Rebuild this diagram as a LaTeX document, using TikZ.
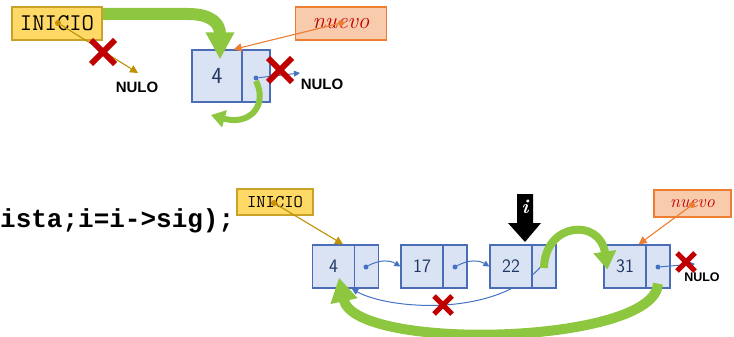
\documentclass[tikz,border=0pt]{standalone}
\usepackage{fontspec}
\newfontfamily\nulofont{Liberation Sans}
\newfontfamily\codefont{Liberation Mono}
\usetikzlibrary{arrows.meta}
\definecolor{inifill}{HTML}{FFD966}
\definecolor{inidraw}{HTML}{C9A227}
\definecolor{goldline}{HTML}{BF9000}
\definecolor{nuefill}{HTML}{F8CBAD}
\definecolor{nuedraw}{HTML}{ED7D31}
\definecolor{nuetext}{HTML}{C00000}
\definecolor{cellfill}{HTML}{DAE3F3}
\definecolor{celldraw}{HTML}{4A6DB5}
\definecolor{blueline}{HTML}{4472C4}
\definecolor{xred}{HTML}{C00000}
\definecolor{gfill}{HTML}{8DC63F}
\definecolor{navy}{HTML}{1F3864}
\tikzset{
  cellst/.style={draw=celldraw, fill=cellfill, line width=1.3pt, inner sep=0pt, text=navy},
  leftcell/.style={cellst, minimum width=42pt, minimum height=43pt, font=\sffamily\fontsize{19}{19}\selectfont},
  rightcell/.style={cellst, minimum width=24pt, minimum height=43pt},
  bigleft/.style={cellst, minimum width=50pt, minimum height=52pt, font=\sffamily\fontsize{23}{23}\selectfont},
  bigright/.style={cellst, minimum width=28pt, minimum height=52pt},
  dotst/.style={circle, fill=blueline, inner sep=0pt, minimum size=5pt},
  orangedot/.style={circle, fill=nuedraw, inner sep=0pt, minimum size=6pt},
  golddot/.style={circle, fill=goldline!80!orange, inner sep=0pt, minimum size=6pt},
  inibox/.style={draw=inidraw, fill=inifill, line width=1.5pt, inner sep=0pt, font=\ttfamily},
  nuebox/.style={draw=nuedraw, fill=nuefill, line width=1.5pt, inner sep=0pt, text=nuetext, font=\itshape},
  nulost/.style={inner sep=0pt, font=\nulofont\bfseries\fontsize{15}{15}\selectfont},
  garrow/.style={draw=gfill},
  barrow/.style={draw=blueline, line width=1pt, -{Triangle[length=6pt,width=6pt]}},
  goldarr/.style={draw=goldline, line width=1.1pt, -{Triangle[length=8pt,width=8pt]}},
  orarr/.style={draw=nuedraw, line width=1.1pt, -{Triangle[length=8pt,width=8pt]}},
  bigcross/.pic={\draw[xred, line width=6pt] (-12,-12)--(12,12) (-12,12)--(12,-12);},
  smallcross/.pic={\draw[xred, line width=5pt] (-9,-9)--(9,9) (-9,9)--(9,-9);}
}
\begin{document}
\begin{tikzpicture}[x=1pt,y=-1pt]
\useasboundingbox (0,0) rectangle (734,337);

% ---------- top part ----------
\node[inibox, minimum width=90pt, minimum height=33pt, font=\ttfamily\fontsize{24}{24}\selectfont] (ini1) at (57,23.5) {INICIO};
\node[nuebox, minimum width=91pt, minimum height=33pt, font=\itshape\fontsize{23}{23}\selectfont] (nue1) at (341,23.5) {nuevo};
\node[golddot] (ini1d) at (58,23) {};
\node[orangedot] (nue1d) at (341,23) {};
\node[nulost] (nul1) at (137,87) {NULO};
\node[nulost] (nul2) at (322,84) {NULO};
\coordinate (t1) at (138,73);
\coordinate (e0) at (300,73);

\node[bigleft] (n0a) at (217,76) {4};
\node[bigright] (n0b) at (256,76) {};
\node[dotst] (d0) at (256,78) {};

\draw[goldarr] (ini1d) -- (t1);
\draw[barrow] (d0) -- (e0);

\draw[garrow, line width=12pt, -{Triangle[length=27pt,width=27pt]}]
  ([yshift=9.5pt]ini1.east) -- (188,14) .. controls (212,14) and (220,24) .. ([xshift=3pt,yshift=-10pt]n0a.north);
\draw[garrow, line width=6pt, -{Triangle[length=14pt,width=17pt]}]
  ([yshift=-3pt]d0.center) .. controls (268,105) and (250,126) .. (211,115);
\draw[orarr] (nue1d) -- ([xshift=-9pt]n0a.north east);

\pic at (103,52) {bigcross};
\pic at (280,70) {bigcross};

% ---------- bottom part ----------
\node[anchor=base west, inner sep=0pt, font=\codefont\bfseries\fontsize{26}{26}\selectfont] (code) at (0,227) {ista;i=i->sig);};

\node[inibox, minimum width=76pt, minimum height=26pt, font=\ttfamily\fontsize{18}{18}\selectfont] (ini2) at (275,202) {INICIO};
\node[nuebox, minimum width=77pt, minimum height=27pt, font=\itshape\fontsize{18}{18}\selectfont] (nue2) at (692.5,203.5) {nuevo};
\node[golddot] (ini2d) at (274,203) {};
\node[orangedot] (nue2d) at (692,205) {};
\node[nulost, font=\nulofont\bfseries\fontsize{12.5}{12.5}\selectfont] (nul3) at (702,277) {NULO};
\coordinate (oe) at (352,289);
\coordinate (e4) at (695,264);

\node[rightcell] (n1b) at (366.5,266.5) {};
\node[rightcell] (n2b) at (455,266.5) {};
\node[rightcell] (n3b) at (544,266.5) {};
\node[rightcell] (n4b) at (658,266.5) {};
\node[dotst] (d3) at (544,263) {};

% old link 22 -> 4 (crossed out)
\draw[barrow] (d3.center) .. controls (500,318) and (390,310) .. (oe);

\node[leftcell] (n1a) at (333.5,266.5) {4};
\node[leftcell] (n2a) at (422,266.5) {17};
\node[leftcell] (n3a) at (511,266.5) {22};
\node[leftcell] (n4a) at (625,266.5) {31};

\node[dotst] (d1) at (366,267) {};
\node[dotst] (d2) at (455,267) {};
\node[dotst] (d4) at (658,267) {};

\draw[barrow] (d1) to[bend left=30] (n2a.west);
\draw[barrow] (d2) to[bend left=30] (n3a.west);
\draw[barrow] (d4) -- (e4);

\draw[goldarr] (ini2d) -- ([xshift=9.5pt]n1a.north);

% pointer i
\fill[black] (517,194) -- (533,194) -- (533,223) -- (541,223) -- (525,242) -- (508,223) -- (517,223) -- cycle;
\node[text=white, inner sep=0pt, font=\bfseries\itshape\fontsize{20}{20}\selectfont] (ilab) at (525,207) {i};

% green arrows
\draw[garrow, line width=8pt, -{Triangle[length=18pt,width=22pt]}]
  ([yshift=-5pt]d3.center) .. controls (545,222) and (600,218) .. ([xshift=4pt,yshift=-3pt]n4a.west);
\draw[garrow, line width=10pt, -{Triangle[length=24pt,width=26pt]}]
  ([yshift=5pt]n4b.south) .. controls (655,345) and (355,352) .. ([xshift=5.5pt,yshift=11pt]n1a.south);

\draw[orarr] (nue2d) -- ([xshift=-8pt]n4a.north east);

\pic at (443,305) {smallcross};
\pic at (686,262) {smallcross};
\end{tikzpicture}
\end{document}
